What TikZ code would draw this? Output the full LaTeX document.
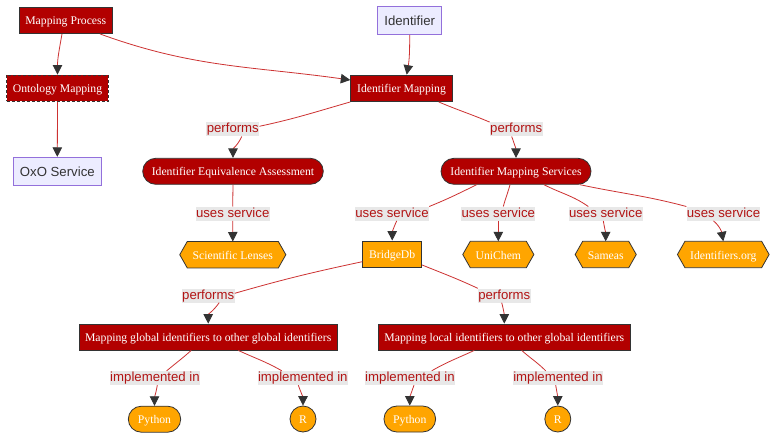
\documentclass[tikz,border=0pt]{standalone}
\usepackage{fontspec}
\setmainfont{Liberation Serif}
\newfontfamily\lsans{Liberation Sans}
\usetikzlibrary{arrows.meta}
\pgfdeclarelayer{background}
\pgfsetlayers{background,main}
\definecolor{nodered}{RGB}{178,0,0}
\definecolor{edgered}{RGB}{205,50,50}
\definecolor{orangeF}{HTML}{FFA500}
\definecolor{darkb}{HTML}{333333}
\definecolor{lavF}{HTML}{ECECFF}
\definecolor{lavD}{HTML}{9370DB}
\definecolor{lblbg}{HTML}{E8E8E8}
\definecolor{lbltext}{RGB}{178,20,20}
\begin{document}
\begin{tikzpicture}[x=1pt,y=1pt,
  nfont/.style={font=\fontsize{11.7}{14}\selectfont, text height=12, text depth=3},
  redbox/.style={rectangle, fill=nodered, draw=darkb, line width=0.8pt, text=white, nfont, minimum height=26.5, inner xsep=2, inner ysep=0},
  stadium/.style={redbox, rounded corners=13, minimum height=26},
  orbox/.style={rectangle, fill=orangeF, draw=darkb, line width=0.8pt, text=white, nfont, minimum height=26.5, inner xsep=2, inner ysep=0},
  orstad/.style={orbox, rounded corners=13, minimum height=26},
  orcirc/.style={circle, fill=orangeF, draw=darkb, line width=0.8pt, text=white, nfont, minimum size=26, inner sep=0},
  hexnode/.style={rectangle, text=white, nfont, minimum height=26, inner xsep=2, inner ysep=0},
  hexshape/.style={fill=orangeF, draw=darkb, line width=0.8pt, line join=miter},
  lavbox/.style={rectangle, fill=lavF, draw=lavD, line width=1pt, text=darkb, font=\lsans\fontsize{13.2}{15}\selectfont, text height=13, text depth=3.2, minimum height=28, inner xsep=2, inner ysep=0},
  elabel/.style={fill=lblbg, text=lbltext, font=\lsans\fontsize{13.2}{15}\selectfont, text height=10.5, text depth=3.5, inner xsep=0.3, inner ysep=0, minimum height=14},
  conn/.style={draw=edgered, line width=0.8pt, -{Triangle[length=9.5pt,width=9.5pt,color=darkb]}},
  connseg/.style={draw=edgered, line width=0.8pt},
]
\useasboundingbox (0,0) rectangle (784,-444);

% nodes
\node[redbox, minimum width=93.7] (MP) at (65.8,-20.3) {Mapping Process};
\node[lavbox, minimum width=64, minimum height=28.3] (ID) at (409.7,-20.2) {Identifier};
\node[redbox, minimum width=101.6, dash pattern=on 3pt off 2pt] (OM) at (57.5,-88.2) {Ontology Mapping};
\node[redbox, minimum width=101.6] (IM) at (401.5,-88.3) {Identifier Mapping};
\node[lavbox, minimum width=88, minimum height=27.7] (OXO) at (57.3,-171.2) {OxO Service};
\node[stadium, minimum width=180.6] (IEA) at (233,-171.3) {Identifier Equivalence Assessment};
\node[stadium, minimum width=150] (IMS) at (516,-171.3) {Identifier Mapping Services};
\node[hexnode, minimum width=105.7] (SL) at (232.8,-254.7) {Scientific Lenses};
\node[orbox, minimum width=59, minimum height=26.7] (BDB) at (392.2,-254.3) {BridgeDb};
\node[hexnode, minimum width=70.7] (UC) at (498.3,-254.5) {UniChem};
\node[hexnode, minimum width=60.7] (SA) at (605.7,-254.5) {Sameas};
\node[hexnode, minimum width=91.3] (IO) at (723.3,-254.5) {Identifiers.org};
\node[redbox, minimum width=258.3, minimum height=26] (MG) at (208.2,-337) {Mapping global identifiers to other global identifiers};
\node[redbox, minimum width=252, minimum height=26] (ML) at (504.3,-337) {Mapping local identifiers to other global identifiers};
\node[orstad, minimum width=52.4] (PY1) at (154.5,-419.2) {Python};
\node[orcirc] (R1) at (303,-419) {R};
\node[orstad, minimum width=51.7] (PY2) at (409.8,-419) {Python};
\node[orcirc] (R2) at (557.8,-419) {R};

\begin{pgfonlayer}{background}
\fill[white] (0,0) rectangle (784,-444);
\foreach \n in {SL,UC,SA,IO}
  \draw[hexshape] (\n.west) -- ([xshift=7.5]\n.north west) -- ([xshift=-7.5]\n.north east) -- (\n.east) -- ([xshift=-7.5]\n.south east) -- ([xshift=7.5]\n.south west) -- cycle;
\end{pgfonlayer}

% edge labels
\node[elabel] (P1) at (232.8,-129.3) {performs};
\node[elabel] (P2) at (516.2,-129.3) {performs};
\node[elabel] (U1) at (232.7,-213.7) {uses service};
\node[elabel] (U2) at (392,-213.7) {uses service};
\node[elabel] (U3) at (498.3,-213.7) {uses service};
\node[elabel] (U4) at (605.7,-213.7) {uses service};
\node[elabel] (U5) at (723.5,-213.7) {uses service};
\node[elabel] (P3) at (208.2,-295.5) {performs};
\node[elabel] (P4) at (504.3,-295.5) {performs};
\node[elabel] (I1) at (155,-378) {implemented in};
\node[elabel] (I2) at (302.8,-378) {implemented in};
\node[elabel] (I3) at (410,-378) {implemented in};
\node[elabel] (I4) at (558,-378) {implemented in};

% connectors
\draw[conn] ([xshift=-3.8]MP.south) to[out=-100,in=90] (OM.north);
\draw[conn] ([xshift=34.2]MP.south) to[out=-20,in=172] ([yshift=8.3]IM.west);
\draw[conn] (ID.south) to[out=-90,in=80] ([xshift=5.2]IM.north);
\draw[conn] (OM.south) -- (OXO.north);

\draw[connseg] (IM.south west) to[out=196,in=12] ([yshift=3]P1.east);
\draw[conn] ([xshift=9]P1.south) to[out=-115,in=90] (IEA.north);
\draw[connseg] ([xshift=-14]IM.south east) to[out=-23,in=157] (P2.north west);
\draw[conn] ([xshift=-4.5]P2.south) to[out=-70,in=90] (IMS.north);

\draw[connseg] (IEA.south) -- (U1.north);
\draw[conn] (U1.south) -- (SL.north);

\draw[connseg] ([xshift=-39.3]IMS.south) to[out=206,in=22] (U2.north east);
\draw[conn] ([xshift=4.7]U2.south) to[out=-115,in=90] (BDB.north);
\draw[connseg] ([xshift=-6]IMS.south) to[out=-105,in=75] ([xshift=5]U3.north);
\draw[conn] (U3.south) -- (UC.north);
\draw[connseg] ([xshift=28]IMS.south) to[out=-27,in=145] ([xshift=-17.4]U4.north);
\draw[conn] ([xshift=-2.4]U4.south) to[out=-80,in=90] (SA.north);
\draw[connseg] ([xshift=64]IMS.south) to[out=-12,in=165] (U5.north west);
\draw[conn] ([xshift=-10]U5.south) to[out=-40,in=100] (IO.north);

\draw[connseg] ([yshift=-7.4]BDB.west) to[out=192,in=16] ([yshift=2.2]P3.east);
\draw[conn] ([xshift=11]P3.south) to[out=-125,in=90] (MG.north);
\draw[connseg] ([yshift=-10.7]BDB.east) to[out=-22,in=155] (P4.north west);
\draw[conn] ([xshift=-2.6]P4.south) to[out=-75,in=90] (ML.north);

\draw[connseg] ([xshift=-17]MG.south) to[out=222,in=40] ([xshift=11.7]I1.north);
\draw[conn] ([xshift=2.3]I1.south) to[out=-100,in=90] (PY1.north);
\draw[connseg] ([xshift=30.1]MG.south) to[out=-25,in=150] ([xshift=-21]I2.north);
\draw[conn] ([xshift=-4.5]I2.south) to[out=-70,in=90] (R1.north);
\draw[connseg] ([xshift=-30]ML.south) to[out=205,in=30] ([xshift=21.7]I3.north);
\draw[conn] ([xshift=4]I3.south) to[out=-110,in=90] (PY2.north);
\draw[connseg] ([xshift=17.4]ML.south) to[out=-42,in=135] ([xshift=-12.3]I4.north);
\draw[conn] ([xshift=-2.3]I4.south) to[out=-80,in=90] (R2.north);
\end{tikzpicture}
\end{document}
